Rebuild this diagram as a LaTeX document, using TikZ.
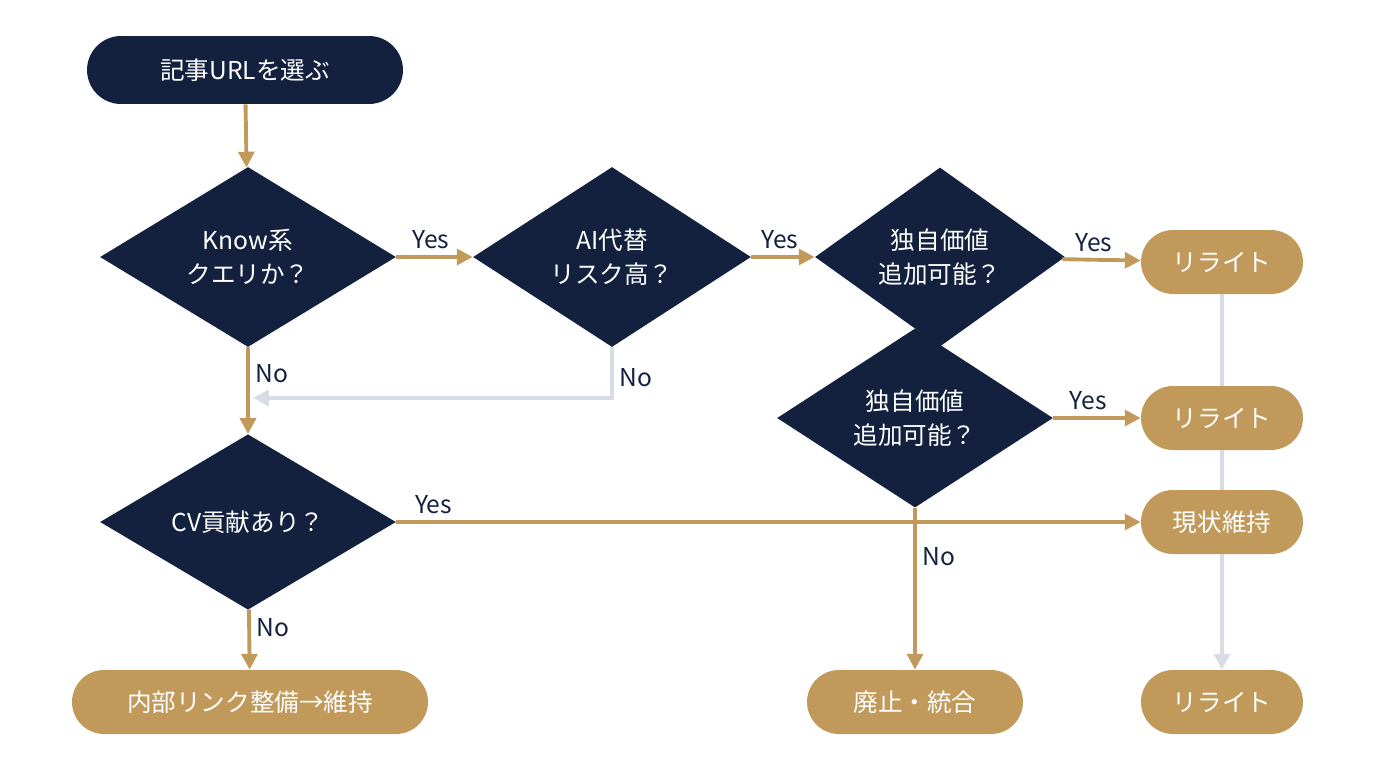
\documentclass[tikz,border=0pt]{standalone}
\usepackage{fontspec}
\setmainfont{Noto Sans CJK JP}
\usepackage{tikz}
\usetikzlibrary{shapes,arrows.meta,positioning,backgrounds}
\definecolor{navy}{HTML}{13213F}
\definecolor{gold}{HTML}{C19A5B}
\definecolor{pale}{HTML}{D8DCE6}

\begin{document}
\begin{tikzpicture}[x=0.02cm, y=-0.02cm,
            term/.style={rectangle, rounded corners=0.64cm, fill=gold, text=white, minimum height=1.28cm, font=\fontsize{14}{17}\selectfont, align=center},
            start/.style={term, fill=navy, minimum height=1.36cm, rounded corners=0.68cm},
            decision/.style={diamond, fill=navy, text=white, inner sep=0pt, font=\fontsize{14}{19}\selectfont, align=center},
            lbl/.style={text=navy, font=\fontsize{14}{17}\selectfont},
            arrow/.style={-{Triangle[length=9pt,width=9pt]}, draw=gold, line width=2.2pt},
            greyarrow/.style={arrow, draw=pale}
        ]
            \useasboundingbox (0,0) rectangle (1376,768);
            \node[start, minimum width=6.32cm] (select) at (245,70) {記事URLを選ぶ};
            \node[decision, minimum width=5.92cm, minimum height=3.6cm] (know) at (248,257) {Know系\\クエリか？};
            \node[decision, minimum width=5.56cm, minimum height=3.6cm] (ai) at (612,257) {AI代替\\リスク高？};
            \node[decision, minimum width=5cm, minimum height=3.12cm] (value) at (940,257) {独自価値\\追加可能？};
            \node[decision, minimum width=5.52cm, minimum height=3.52cm] (valuelow) at (915,418) {独自価値\\追加可能？};
            \node[decision, minimum width=5.92cm, minimum height=3.4cm] (cv) at (248,522) {CV貢献あり？};
            \node[term, minimum width=3.24cm] (rewriteA) at (1222,262) {リライト};
            \node[term, minimum width=3.24cm] (rewriteB) at (1222,418) {リライト};
            \node[term, minimum width=3.24cm] (keep) at (1222,522) {現状維持};
            \node[term, minimum width=3.24cm] (rewriteC) at (1222,702) {リライト};
            \node[term, minimum width=7.12cm] (link) at (250,702) {内部リンク整備→維持};
            \node[term, minimum width=4.32cm] (retire) at (915,702) {廃止・統合};
            \coordinate (merge) at (248,398);

            \begin{scope}[on background layer]
                \draw[greyarrow] (rewriteA) -- (rewriteC);
            \end{scope}
            \draw[arrow] (select) -- (know);
            \draw[arrow] (know) -- node[lbl, above, pos=0.45] {Yes} (ai);
            \draw[arrow] (ai) -- node[lbl, above, pos=0.45] {Yes} (value);
            \draw[arrow] (value) -- node[lbl, above, pos=0.4] {Yes} (rewriteA);
            \draw[arrow] (know) -- node[lbl, right, pos=0.3] {No} (cv);
            \draw[greyarrow] (ai.south) |- node[lbl, right, pos=0.3] {No} ([xshift=0.1cm]merge);
            \draw[arrow] (valuelow) -- node[lbl, above, pos=0.4] {Yes} (rewriteB);
            \draw[arrow] (cv) -- node[lbl, above, pos=0.05] {Yes} (keep);
            \draw[arrow] (cv) -- node[lbl, right, pos=0.3] {No} (link);
            \draw[arrow] (valuelow) -- node[lbl, right, pos=0.3] {No} (retire);
        \end{tikzpicture}
\end{document}
